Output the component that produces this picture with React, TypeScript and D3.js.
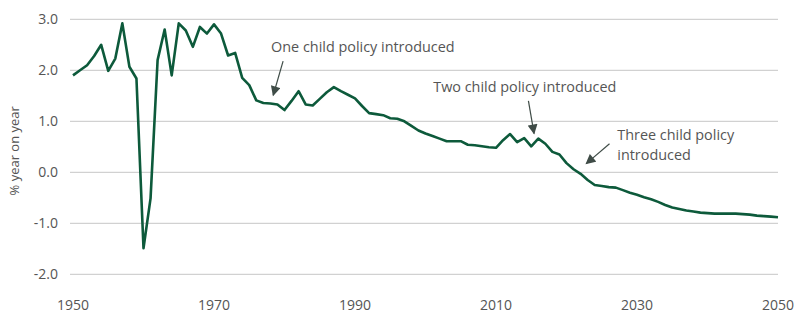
import React from "react";
import * as d3 from "d3";

const years: number[] = d3.range(1950, 2051);
const growth: number[] = [
  1.90, 2.00, 2.10, 2.28, 2.50, 1.99, 2.23, 2.92, 2.07, 1.84,
  -1.49, -0.51, 2.20, 2.80, 1.90, 2.92, 2.78, 2.46, 2.85, 2.72,
  2.90, 2.72, 2.29, 2.34, 1.85, 1.71, 1.41, 1.36, 1.35, 1.33,
  1.22, 1.40, 1.59, 1.33, 1.31, 1.44, 1.57, 1.67, 1.59, 1.52,
  1.45, 1.30, 1.16, 1.14, 1.12, 1.06, 1.05, 1.00, 0.91, 0.82,
  0.76, 0.71, 0.66, 0.61, 0.61, 0.61, 0.54, 0.53, 0.51, 0.49,
  0.48, 0.63, 0.75, 0.59, 0.67, 0.51, 0.66, 0.56, 0.40, 0.35,
  0.18, 0.06, -0.03, -0.15, -0.25, -0.27, -0.29, -0.30, -0.35, -0.40,
  -0.44, -0.49, -0.53, -0.58, -0.64, -0.69, -0.72, -0.75, -0.77, -0.79,
  -0.80, -0.81, -0.81, -0.81, -0.81, -0.82, -0.83, -0.85, -0.86, -0.87,
  -0.88,
];
const yTicks: number[] = [3, 2, 1, 0, -1, -2];
const xTicks: number[] = [1950, 1970, 1990, 2010, 2030, 2050];
const yTitle = "% year on year";

type Note = { lines: string[]; tx: number; ty: number; ax0: number; ay0: number; ax1: number; ay1: number };
const notes: Note[] = [
  { lines: ["One child policy introduced"], tx: 1978.1, ty: 2.35, ax0: 1979.8, ay0: 2.18, ax1: 1978.4, ay1: 1.51 },
  { lines: ["Two child policy introduced"], tx: 2001.1, ty: 1.57, ax0: 2014.6, ay0: 1.40, ax1: 2015.4, ay1: 0.76 },
  { lines: ["Three child policy", "introduced"], tx: 2027.2, ty: 0.63, ax0: 2026.1, ay0: 0.56, ax1: 2022.8, ay1: 0.17 },
];

export default function App() {
  const W = 800, H = 323;
  const x = d3.scaleLinear().domain([1950, 2050]).range([73, 778]);
  const y = d3.scaleLinear().domain([-2, 3]).range([274.3, 19.3]);
  const line = d3.line<number>().x((_, i) => x(years[i])).y((d) => y(d));
  const font = "'Open Sans', sans-serif";
  const textColor = "#555";
  const arrowColor = "#3f4c47";
  return (
    <svg width={W} height={H} style={{ position: "absolute", left: 0, top: 0, background: "#fff" }} fontFamily={font}>
      <defs>
        <marker id="ah" viewBox="0 0 10 10" refX="9" refY="5" markerWidth="11" markerHeight="10" orient="auto" markerUnits="userSpaceOnUse">
          <path d="M0,0 L10,5 L0,10 z" fill={arrowColor} />
        </marker>
      </defs>
      {yTicks.map((t) => (
        <g key={t}>
          <line x1={70} x2={778} y1={y(t)} y2={y(t)} stroke="#c6c6c6" strokeWidth={1} />
          <text x={58} y={y(t)} dy="0.35em" textAnchor="end" fontSize={14} fill={textColor}>
            {t.toFixed(1)}
          </text>
        </g>
      ))}
      {xTicks.map((t) => (
        <text key={t} x={x(t)} y={305} dy="0.35em" textAnchor="middle" fontSize={14} fill={textColor}>
          {t}
        </text>
      ))}
      <text transform={`translate(14,${y(0.5) + 4}) rotate(-90)`} textAnchor="middle" dy="0.35em" fontSize={13} fill={textColor}>
        {yTitle}
      </text>
      <path d={line(growth) || ""} fill="none" stroke="#0d5a3b" strokeWidth={2.6} strokeLinejoin="round" />
      {notes.map((n, i) => (
        <g key={i}>
          {n.lines.map((l, j) => (
            <text key={j} x={x(n.tx)} y={y(n.ty) + j * 20} fontSize={14.4} fill={textColor}>
              {l}
            </text>
          ))}
          <line x1={x(n.ax0)} y1={y(n.ay0)} x2={x(n.ax1)} y2={y(n.ay1)} stroke={arrowColor} strokeWidth={1.2} markerEnd="url(#ah)" />
        </g>
      ))}
    </svg>
  );
}
